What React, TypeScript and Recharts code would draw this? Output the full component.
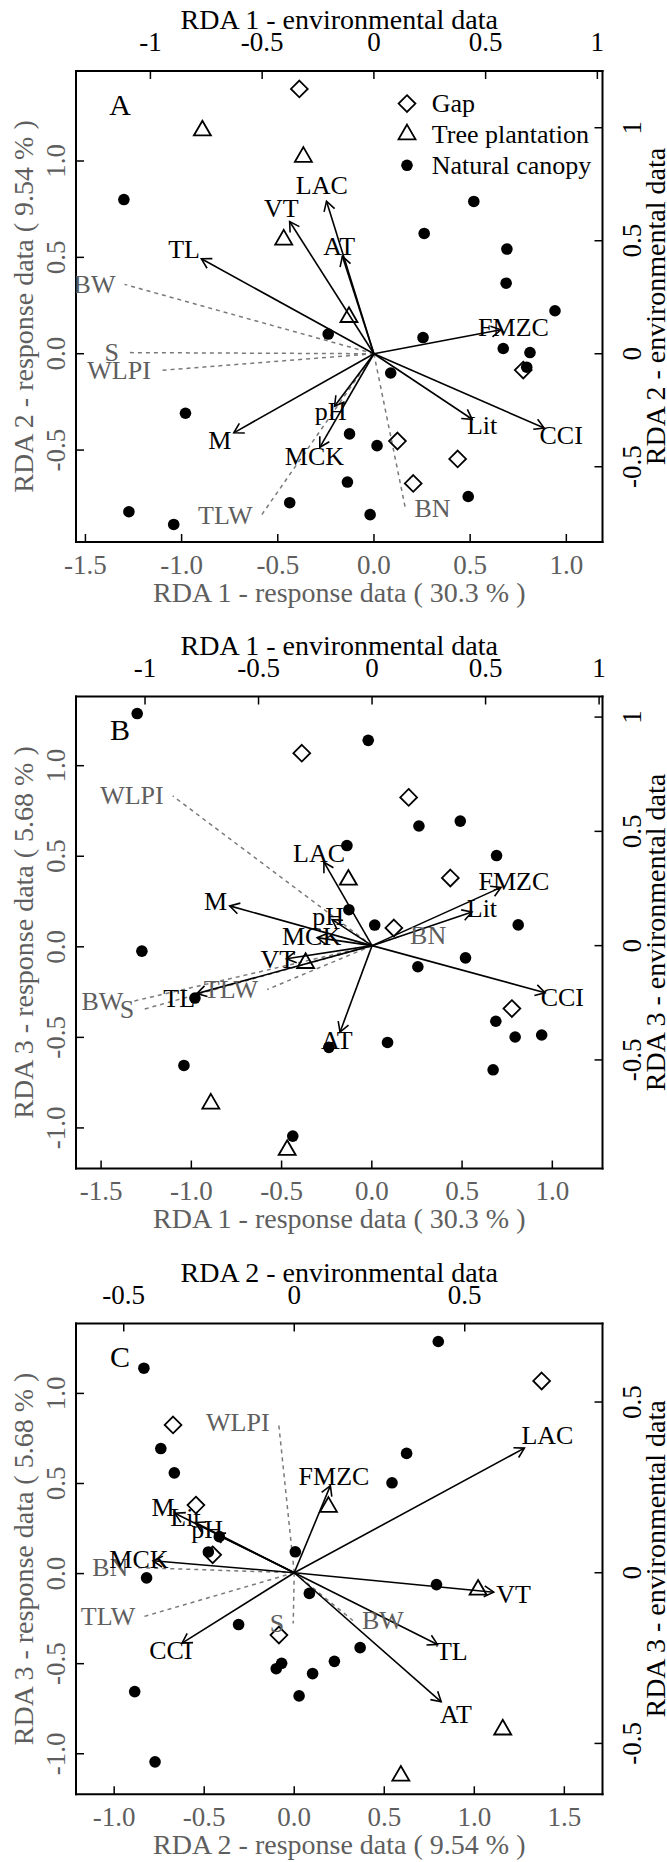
import React from "react";
import { ScatterChart, Scatter, XAxis, YAxis, ReferenceLine, Legend } from "recharts";

const SERIF = "'Liberation Serif', 'Times New Roman', Times, serif";
const GREY = "#5e5e5e";
const DASH = "#7a7a7a";

// site scores (response data) on RDA 1, 2, 3
const canopyRda1 = [-1.3, -0.02, 0.261, 0.49, -0.138, 0.691, -0.127, 0.016, 0.811, -1.274, 0.519, 0.255, -0.98, 0.687, 0.794, 0.941, -0.238, 0.087, -1.041, 0.672, -0.438];
const canopyRda2 = [0.8, -0.835, 0.624, -0.741, -0.666, 0.543, -0.416, -0.477, 0.006, -0.82, 0.79, 0.084, -0.309, 0.366, -0.07, 0.223, 0.102, -0.1, -0.886, 0.027, -0.773];
const canopyRda3 = [1.288, 1.14, 0.667, 0.694, 0.559, 0.504, 0.205, 0.12, 0.121, -0.024, -0.061, -0.11, -0.283, -0.411, -0.498, -0.487, -0.555, -0.528, -0.655, -0.679, -1.045];

const gapRda1 = [-0.388, 0.776, 0.122, 0.435, 0.204];
const gapRda2 = [1.374, -0.085, -0.453, -0.546, -0.673];
const gapRda3 = [1.069, -0.341, 0.104, 0.38, 0.825];

const treeRda1 = [-0.892, -0.367, -0.469, -0.13];
const treeRda2 = [1.158, 1.021, 0.592, 0.19];
const treeRda3 = [-0.866, -0.09, -1.122, 0.37];

// environmental biplot scores
const envNames = ["LAC", "VT", "AT", "TL", "FMZC", "Lit", "CCI", "M", "MCK", "pH"];
const envRda1 = [-0.212, -0.377, -0.141, -0.772, 0.568, 0.44, 0.762, -0.627, -0.242, -0.176];
const envRda2 = [0.675, 0.585, 0.431, 0.42, 0.106, -0.29, -0.329, -0.35, -0.414, -0.232];
const envRda3 = [0.365, -0.057, -0.378, -0.21, 0.255, 0.147, -0.206, 0.174, 0.035, 0.114];

// passive variables (dashed grey), as drawn in each panel
const suppNamesA = ["BW", "S", "WLPI", "TLW", "BN"];
const suppXA = [-1.116, -1.101, -0.958, -0.503, 0.141];
const suppYA = [0.307, 0.005, -0.074, -0.714, -0.684];
const suppNamesB = ["WLPI", "BW", "S", "TLW", "BN"];
const suppXB = [-0.878, -1.056, -1.008, -0.462, 0.128];
const suppYB = [0.655, -0.244, -0.279, -0.192, 0.043];
const suppNamesC = ["WLPI", "BN", "TLW", "S", "BW"];
const suppXC = [-0.046, -0.46, -0.44, -0.003, 0.172];
const suppYC = [0.44, 0.015, -0.128, -0.149, -0.14];

// tick values
const respTicks1 = [-1.5, -1, -0.5, 0, 0.5, 1];
const respTicksA2 = [-0.5, 0, 0.5, 1];
const respTicks3 = [-1, -0.5, 0, 0.5, 1];
const respTicksC2 = [-1, -0.5, 0, 0.5, 1, 1.5];
const envTicks1 = [-1, -0.5, 0, 0.5, 1];
const envTicksA2 = [-0.5, 0, 0.5, 1];
const envTicksB3 = [-0.5, 0, 0.5, 1];
const envTicksC2 = [-0.5, 0, 0.5];
const envTicksC3 = [-0.5, 0, 0.5];

const resp = [canopyRda1, canopyRda2, canopyRda3];
const gapR = [gapRda1, gapRda2, gapRda3];
const treeR = [treeRda1, treeRda2, treeRda3];
const envR = [envRda1, envRda2, envRda3];

// margins are the plot box minus the 1px that each axis takes
const panels = [
  {
    letter: "A", top: 0, height: 620, margin: { top: 70, right: 63.5, bottom: 77, left: 75 },
    ax: 0, ay: 1, rx: [-1.549, 1.188], ry: [-0.977, 1.467], ex: [-1.333, 1.023], ey: [-0.833, 1.251],
    rxT: respTicks1, ryT: respTicksA2, exT: envTicks1, eyT: envTicksA2,
    sn: suppNamesA, sx: suppXA, sy: suppYA, legend: true,
    bottom: "RDA 1 - response data ( 30.3 % )", left: "RDA 2 - response data ( 9.54 % )",
    topT: "RDA 1 - environmental data", right: "RDA 2 - environmental data",
  },
  {
    letter: "B", top: 620, height: 620, margin: { top: 75.5, right: 63.5, bottom: 70.5, left: 75 },
    ax: 0, ay: 2, rx: [-1.639, 1.278], ry: [-1.224, 1.382], ex: [-1.304, 1.015], ey: [-0.975, 1.09],
    rxT: respTicks1, ryT: respTicks3, exT: envTicks1, eyT: envTicksB3,
    sn: suppNamesB, sx: suppXB, sy: suppYB, legend: false,
    bottom: "RDA 1 - response data ( 30.3 % )", left: "RDA 3 - response data ( 5.68 % )",
    topT: "RDA 1 - environmental data", right: "RDA 3 - environmental data",
  },
  {
    letter: "C", top: 1240, height: 622, margin: { top: 82.5, right: 63.5, bottom: 66.7, left: 75 },
    ax: 1, ay: 2, rx: [-1.212, 1.712], ry: [-1.225, 1.388], ex: [-0.64, 0.904], ey: [-0.649, 0.73],
    rxT: respTicksC2, ryT: respTicks3, exT: envTicksC2, eyT: envTicksC3,
    sn: suppNamesC, sx: suppXC, sy: suppYC, legend: false,
    bottom: "RDA 2 - response data ( 9.54 % )", left: "RDA 3 - response data ( 5.68 % )",
    topT: "RDA 2 - environmental data", right: "RDA 3 - environmental data",
  },
];

const txt = { fontFamily: SERIF, fontSize: 27 };

const fmtResp = (v: number) => v.toFixed(1);
const fmtEnv = (v: number) => `${v}`;

const makeTick = (side: string, color: string, fmt: (v: number) => string) => (props: any) => {
  const { x, y, payload } = props;
  const s = fmt(payload.value);
  if (side === "bottom")
    return (
      <g>
        <line x1={x} x2={x} y1={y} y2={y - 8} stroke="#000" strokeWidth={1.5} />
        <text x={x} y={y + 31.5} textAnchor="middle" fill={color} style={txt}>{s}</text>
      </g>
    );
  if (side === "top")
    return (
      <g>
        <line x1={x} x2={x} y1={y} y2={y + 8} stroke="#000" strokeWidth={1.5} />
        <text x={x} y={y - 20} textAnchor="middle" fill={color} style={txt}>{s}</text>
      </g>
    );
  const bx = side === "left" ? x - 11 : x + 39;
  const dx = side === "left" ? 8 : -8;
  return (
    <g>
      <line x1={x} x2={x + dx} y1={y} y2={y} stroke="#000" strokeWidth={1.5} />
      <text x={bx} y={y} textAnchor="middle" fill={color} style={txt} transform={`rotate(-90 ${bx} ${y})`}>{s}</text>
    </g>
  );
};

const axisTitle = (side: string, text: string, color: string) => ({
  content: (lp: any) => {
    const vb = lp.viewBox || {};
    const { x = 0, y = 0, width = 0, height = 0 } = vb;
    if (side === "bottom" || side === "top") {
      const ty = side === "bottom" ? y + 59.5 : y + height - 42;
      return <text x={x + width / 2} y={ty} textAnchor="middle" fill={color} style={{ ...txt, fontSize: 28 }}>{text}</text>;
    }
    const bx = side === "left" ? x + width - 43 : x + 62.5;
    const cy = y + height / 2;
    return (
      <text x={bx} y={cy} textAnchor="middle" fill={color} style={{ ...txt, fontSize: 28 }} transform={`rotate(-90 ${bx} ${cy})`}>
        {text}
      </text>
    );
  },
});

const Dot = (p: any) => <circle cx={p.cx} cy={p.cy} r={5.8} fill="#000" />;
const Diamond = (p: any) => {
  const { cx, cy } = p;
  const r = 8.4;
  return <path d={`M${cx},${cy - r}L${cx + r},${cy}L${cx},${cy + r}L${cx - r},${cy}Z`} fill="none" stroke="#000" strokeWidth={1.8} />;
};
const Triangle = (p: any) => {
  const { cx, cy } = p;
  return <path d={`M${cx},${cy - 9.8}L${cx + 8.5},${cy + 4.9}L${cx - 8.5},${cy + 4.9}Z`} fill="none" stroke="#000" strokeWidth={1.8} />;
};

const ArrowShape = (p: any) => {
  const { x1, y1, x2, y2 } = p;
  const ang = Math.atan2(y2 - y1, x2 - x1);
  const L = 11;
  const a = Math.PI / 6;
  const h1x = x2 - L * Math.cos(ang - a);
  const h1y = y2 - L * Math.sin(ang - a);
  const h2x = x2 - L * Math.cos(ang + a);
  const h2y = y2 - L * Math.sin(ang + a);
  return (
    <g>
      <line x1={x1} y1={y1} x2={x2} y2={y2} stroke="#000" strokeWidth={1.6} />
      <polyline points={`${h1x},${h1y} ${x2},${y2} ${h2x},${h2y}`} fill="none" stroke="#000" strokeWidth={1.6} />
    </g>
  );
};

const DashShape = (p: any) => (
  <line x1={p.x1} y1={p.y1} x2={p.x2} y2={p.y2} stroke={DASH} strokeWidth={1.5} strokeDasharray="4 4" />
);

const EnvLabel = (p: any) => (
  <text x={p.cx} y={p.cy} textAnchor="middle" dominantBaseline="central" fill="#000" style={{ ...txt, fontSize: 26 }}>
    {p.payload.name}
  </text>
);

const SuppLabel = (p: any) => {
  const left = p.payload.x < 0;
  return (
    <text x={p.cx + (left ? -9 : 9)} y={p.cy} textAnchor={left ? "end" : "start"} dominantBaseline="central" fill={GREY} style={{ ...txt, fontSize: 26 }}>
      {p.payload.name}
    </text>
  );
};

const LegendBox = () => (
  <svg width={240} height={100}>
    <Diamond cx={12} cy={18.6} />
    <Triangle cx={12} cy={49.4} />
    <Dot cx={12} cy={80.3} />
    <text x={36.8} y={18.6} dominantBaseline="central" style={{ ...txt, fontSize: 26 }}>Gap</text>
    <text x={36.8} y={49.4} dominantBaseline="central" style={{ ...txt, fontSize: 26 }}>Tree plantation</text>
    <text x={36.8} y={80.3} dominantBaseline="central" style={{ ...txt, fontSize: 26 }}>Natural canopy</text>
  </svg>
);

function Panel({ p }: { p: (typeof panels)[number] }) {
  const canopy = resp[p.ax].map((v, i) => ({ x: v, y: resp[p.ay][i] }));
  const gap = gapR[p.ax].map((v, i) => ({ x: v, y: gapR[p.ay][i] }));
  const tree = treeR[p.ax].map((v, i) => ({ x: v, y: treeR[p.ay][i] }));
  const env = envNames.map((n, i) => ({ name: n, x: envR[p.ax][i], y: envR[p.ay][i] }));
  const envLabels = env.map((e) => ({ name: e.name, x: e.x * 1.1, y: e.y * 1.1 }));
  const supp = p.sn.map((n, i) => ({ name: n, x: p.sx[i], y: p.sy[i] }));
  const axisLine = { stroke: "#000", strokeWidth: 2, strokeLinecap: "square" as const };
  const plotTop = p.margin.top + 1;

  return (
    <div style={{ position: "absolute", left: 0, top: p.top, width: 667, height: p.height }}>
      <ScatterChart width={667} height={p.height} margin={p.margin}>
        <XAxis xAxisId="resp" dataKey="x" type="number" orientation="bottom" domain={p.rx} ticks={p.rxT} allowDataOverflow
          height={1} tickSize={0} tickMargin={0} tickLine={false} interval={0} axisLine={axisLine}
          tick={makeTick("bottom", GREY, fmtResp)} label={axisTitle("bottom", p.bottom, GREY)} />
        <XAxis xAxisId="env" dataKey="x" type="number" orientation="top" domain={p.ex} ticks={p.exT} allowDataOverflow
          height={1} tickSize={0} tickMargin={0} tickLine={false} interval={0} axisLine={axisLine}
          tick={makeTick("top", "#000", fmtEnv)} label={axisTitle("top", p.topT, "#000")} />
        <YAxis yAxisId="resp" dataKey="y" type="number" orientation="left" domain={p.ry} ticks={p.ryT} allowDataOverflow
          width={1} tickSize={0} tickMargin={0} tickLine={false} interval={0} axisLine={axisLine}
          tick={makeTick("left", GREY, fmtResp)} label={axisTitle("left", p.left, GREY)} />
        <YAxis yAxisId="env" dataKey="y" type="number" orientation="right" domain={p.ey} ticks={p.eyT} allowDataOverflow
          width={1} tickSize={0} tickMargin={0} tickLine={false} interval={0} axisLine={axisLine}
          tick={makeTick("right", "#000", fmtEnv)} label={axisTitle("right", p.right, "#000")} />

        {supp.map((s) => (
          <ReferenceLine key={"d" + s.name} xAxisId="env" yAxisId="env" ifOverflow="visible"
            segment={[{ x: 0, y: 0 }, { x: s.x, y: s.y }]} shape={DashShape} />
        ))}
        <Scatter name="Natural canopy" xAxisId="resp" yAxisId="resp" data={canopy} shape={Dot} isAnimationActive={false} />
        <Scatter name="Gap" xAxisId="resp" yAxisId="resp" data={gap} shape={Diamond} isAnimationActive={false} />
        <Scatter name="Tree plantation" xAxisId="resp" yAxisId="resp" data={tree} shape={Triangle} isAnimationActive={false} />
        {env.map((e) => (
          <ReferenceLine key={"a" + e.name} xAxisId="env" yAxisId="env" ifOverflow="visible"
            segment={[{ x: 0, y: 0 }, { x: e.x, y: e.y }]} shape={ArrowShape} />
        ))}
        <Scatter xAxisId="env" yAxisId="env" data={supp} shape={SuppLabel} isAnimationActive={false} />
        <Scatter xAxisId="env" yAxisId="env" data={envLabels} shape={EnvLabel} isAnimationActive={false} />
        {p.legend && (
          <Legend layout="vertical" align="center" verticalAlign="middle"
            wrapperStyle={{ top: 85, left: 395, width: 240, height: 100 }} content={() => <LegendBox />} />
        )}
      </ScatterChart>
      <svg width={667} height={p.height} style={{ position: "absolute", left: 0, top: 0, pointerEvents: "none" }}>
        <text x={120} y={plotTop + 33} textAnchor="middle" dominantBaseline="central" style={{ ...txt, fontSize: 30 }}>
          {p.letter}
        </text>
      </svg>
    </div>
  );
}

export default function App() {
  return (
    <div style={{ position: "absolute", left: 0, top: 0, width: 667, height: 1862, background: "#fff" }}>
      {panels.map((p) => (
        <Panel key={p.letter} p={p} />
      ))}
    </div>
  );
}
